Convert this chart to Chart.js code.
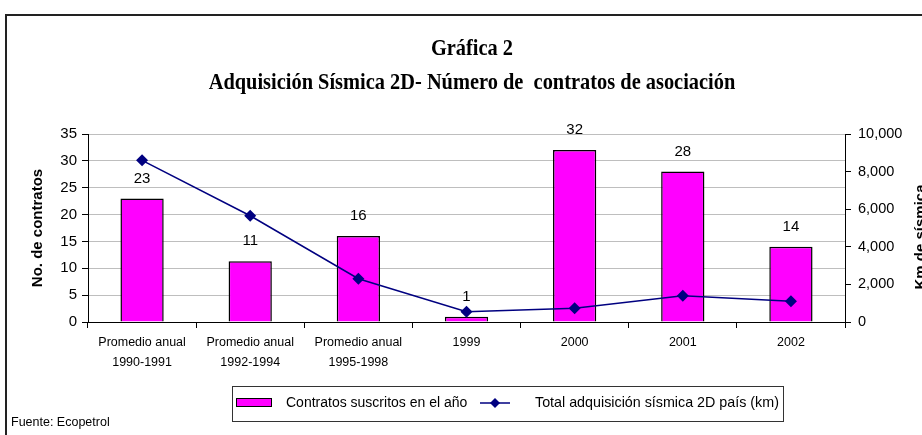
<!DOCTYPE html>
<html>
<head>
<meta charset="utf-8">
<script src="https://cdn.jsdelivr.net/npm/chart.js@4/dist/chart.umd.min.js"></script>
<style>
    body { margin: 0; background: #fff; }
    canvas { display: block; }
</style>
</head>
<body>
<canvas id="sismica_chart" width="922" height="435"></canvas>
<script>
// chart data
var categories = [
    ['Promedio anual', '1990-1991'],
    ['Promedio anual', '1992-1994'],
    ['Promedio anual', '1995-1998'],
    '1999', '2000', '2001', '2002'
];
var contratos = [23, 11.33, 16, 1, 32, 28, 14];
var kmSismica = [8600, 5650, 2300, 550, 730, 1400, 1100];

var titleLines = ['Gráfica 2', 'Adquisición Sísmica 2D- Número de  contratos de asociación'];
var barLegend = 'Contratos suscritos en el año';
var lineLegend = 'Total adquisición sísmica 2D país (km)';
var leftAxisTitle = 'No. de contratos';
var rightAxisTitle = 'Km de sísmica';
var sourceText = 'Fuente: Ecopetrol';

var sansFont = "'Liberation Sans', Arial, sans-serif";
var serifFont = "'Liberation Serif', 'Times New Roman', serif";

// extra drawing: frame, titles, value labels, legend, source
var decorations = {
    id: 'decorations',
    beforeDraw: function(chart) {
        var ctx = chart.ctx;
        ctx.save();
        ctx.fillStyle = '#fff';
        ctx.fillRect(0, 0, chart.width, chart.height);
        ctx.strokeStyle = '#222';
        ctx.lineWidth = 2;
        ctx.beginPath();
        ctx.moveTo(6, chart.height);
        ctx.lineTo(6, 15);
        ctx.lineTo(chart.width, 15);
        ctx.stroke();
        ctx.restore();
    },
    afterDatasetsDraw: function(chart) {
        var ctx = chart.ctx;
        var meta = chart.getDatasetMeta(1);
        ctx.save();
        ctx.fillStyle = '#000';
        ctx.font = '15px ' + sansFont;
        ctx.textAlign = 'center';
        ctx.textBaseline = 'middle';
        meta.data.forEach(function(bar, i) {
            ctx.fillText(String(Math.round(contratos[i])), bar.x, bar.y - 20);
        });
        ctx.restore();
    },
    afterDraw: function(chart) {
        var ctx = chart.ctx;
        ctx.save();
        ctx.fillStyle = '#000';

        // title (narrow bold serif)
        ctx.font = 'bold 24px ' + serifFont;
        ctx.textAlign = 'center';
        ctx.textBaseline = 'middle';
        [49, 83].forEach(function(y, i) {
            ctx.save();
            ctx.translate(472, y);
            ctx.scale(0.85, 1);
            ctx.fillText(titleLines[i], 0, 0);
            ctx.restore();
        });

        // right axis title
        ctx.save();
        ctx.translate(921, 237);
        ctx.rotate(-Math.PI / 2);
        ctx.font = 'bold 15px ' + sansFont;
        ctx.fillText(rightAxisTitle, 0, 0);
        ctx.restore();

        // legend
        ctx.strokeStyle = '#333';
        ctx.lineWidth = 1;
        ctx.strokeRect(232.5, 386.5, 551, 35);
        ctx.fillStyle = '#ff00ff';
        ctx.fillRect(236, 398, 36, 9);
        ctx.strokeStyle = '#000';
        ctx.strokeRect(236.5, 398.5, 35, 8);

        ctx.fillStyle = '#000';
        ctx.font = '14px ' + sansFont;
        ctx.textAlign = 'left';
        ctx.fillText(barLegend, 286, 403);

        ctx.strokeStyle = '#000080';
        ctx.lineWidth = 1.5;
        ctx.beginPath();
        ctx.moveTo(480, 403);
        ctx.lineTo(510, 403);
        ctx.stroke();
        ctx.fillStyle = '#000080';
        ctx.beginPath();
        ctx.moveTo(495, 398);
        ctx.lineTo(500, 403);
        ctx.lineTo(495, 408);
        ctx.lineTo(490, 403);
        ctx.closePath();
        ctx.fill();

        ctx.fillStyle = '#000';
        ctx.font = '14.3px ' + sansFont;
        ctx.fillText(lineLegend, 535, 403);

        // source
        ctx.font = '12.5px ' + sansFont;
        ctx.fillText(sourceText, 11, 423);
        ctx.restore();
    }
};

var chartData = {
    labels: categories,
    datasets: [{
        type: 'line',
        label: lineLegend,
        data: kmSismica,
        yAxisID: 'y1',
        order: 1,
        borderColor: '#000080',
        backgroundColor: '#000080',
        borderWidth: 1.5,
        tension: 0,
        pointStyle: 'rectRot',
        pointRadius: 6,
        pointBorderWidth: 0
    }, {
        type: 'bar',
        label: barLegend,
        data: contratos,
        yAxisID: 'y',
        order: 2,
        backgroundColor: '#ff00ff',
        borderColor: '#000',
        borderWidth: 1.5,
        categoryPercentage: 1,
        barPercentage: 0.4
    }]
};

var ctx = document.getElementById('sismica_chart').getContext('2d');

var myChart = new Chart(ctx, {
    data: chartData,
    plugins: [decorations],
    options: {
        responsive: false,
        animation: false,
        devicePixelRatio: 1,
        layout: { padding: { top: 134, left: 0, right: 0, bottom: 0 } },
        plugins: {
            legend: { display: false },
            title: { display: false },
            tooltip: { enabled: false }
        },
        scales: {
            x: {
                type: 'category',
                grid: { offset: true, drawOnChartArea: false, tickLength: 6, tickColor: '#000' },
                border: { color: '#000' },
                ticks: {
                    color: '#000',
                    font: { family: sansFont, size: 12.5, lineHeight: 1.56 },
                    padding: 5,
                    maxRotation: 0,
                    autoSkip: false
                },
                afterFit: function(scale) { scale.height = 113; }
            },
            y: {
                position: 'left',
                min: 0,
                max: 35,
                grid: { color: '#bebebe', tickColor: '#000', tickLength: 6 },
                border: { color: '#000' },
                ticks: {
                    stepSize: 5,
                    color: '#000',
                    font: { family: sansFont, size: 15 },
                    padding: 5
                },
                title: {
                    display: true,
                    text: leftAxisTitle,
                    color: '#000',
                    font: { family: sansFont, size: 15, weight: 'bold' },
                    padding: { top: 29, bottom: 0 }
                },
                afterFit: function(scale) { scale.width = 88; }
            },
            y1: {
                position: 'right',
                min: 0,
                max: 10000,
                grid: { drawOnChartArea: false, tickColor: '#000', tickLength: 6 },
                border: { color: '#000' },
                ticks: {
                    stepSize: 2000,
                    color: '#000',
                    font: { family: sansFont, size: 14.5 },
                    padding: 7,
                    callback: function(v) { return v.toLocaleString('en-US'); }
                },
                afterFit: function(scale) { scale.width = 77; }
            }
        }
    }
});
</script>
</body>
</html>
